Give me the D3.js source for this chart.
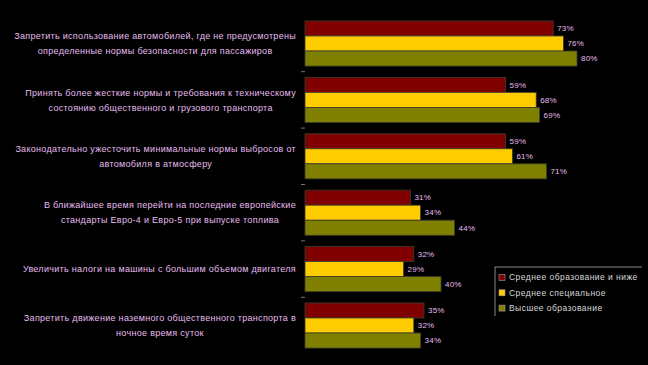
<!DOCTYPE html>
<html>
<head>
<meta charset="utf-8">
<script src="https://cdn.jsdelivr.net/npm/d3@7"></script>
<style>
  html, body { margin: 0; padding: 0; background: #000; }
  svg { display: block; }
</style>
</head>
<body>
<svg id="chart" width="648" height="365"></svg>
<script>
// categories, already split in the lines they wrap to
const categories = [
  ['Запретить использование автомобилей, где не предусмотрены', 'определенные нормы безопасности для пассажиров'],
  ['Принять более жесткие нормы и требования к техническому', 'состоянию общественного и грузового транспорта'],
  ['Законодательно ужесточить минимальные нормы выбросов от', 'автомобиля в атмосферу'],
  ['В ближайшее время перейти на последние европейские', 'стандарты Евро-4 и Евро-5 при выпуске топлива'],
  ['Увеличить налоги на машины с большим объемом двигателя'],
  ['Запретить движение наземного общественного транспорта в', 'ночное время суток']
];
const seriesNames = ['Среднее образование и ниже', 'Среднее специальное', 'Высшее образование'];
const seriesColors = ['#800000', '#ffcc00', '#808000'];
const secondaryValues = [73, 59, 59, 31, 32, 35];
const specialValues   = [76, 68, 61, 34, 29, 32];
const higherValues    = [80, 69, 71, 44, 40, 34];
const seriesValues = [secondaryValues, specialValues, higherValues];

const svg = d3.select('#chart');
const textColor = '#e6bcef';

let x = d3.scaleLinear().domain([0, 100]).range([305, 645]);
let y = d3.scaleBand()
  .domain(d3.range(categories.length))
  .range([15.3, 353.7])
  .paddingInner(0.2)
  .paddingOuter(0.1)
;
let ySub = d3.scaleBand().domain(d3.range(seriesNames.length)).range([0, y.bandwidth()]);

// ticks sit between groups, so put them on the band boundaries
let boundaries = d3.range(1, categories.length).map(i => y(i) - y.step() * y.paddingInner() / 2);
svg.append('g')
  .selectAll('line')
  .data(boundaries)
  .enter()
  .append('line')
  .attr('x1', 301).attr('x2', 305)
  .attr('y1', d => d).attr('y2', d => d)
  .attr('stroke', '#777')
  .attr('stroke-width', 1)
;

let groups = svg.selectAll('.group')
  .data(categories)
  .enter()
  .append('g')
  .attr('transform', (d, i) => `translate(0, ${y(i)})`)
;

groups.selectAll('rect')
  .data((d, i) => seriesValues.map((s, k) => ({ k: k, v: s[i] })))
  .enter()
  .append('rect')
  .attr('x', x(0))
  .attr('y', d => ySub(d.k))
  .attr('width', d => x(d.v) - x(0))
  .attr('height', ySub.bandwidth())
  .attr('fill', d => seriesColors[d.k])
  .attr('stroke', '#3c3c30')
  .attr('stroke-width', 0.8)
;

groups.selectAll('.value')
  .data((d, i) => seriesValues.map((s, k) => ({ k: k, v: s[i] })))
  .enter()
  .append('text')
  .attr('x', d => x(d.v) + 4)
  .attr('y', d => ySub(d.k) + ySub.bandwidth() / 2)
  .attr('dy', '0.35em')
  .attr('fill', textColor)
  .attr('style', 'font: 8px "Liberation Sans", Arial, sans-serif; letter-spacing: 0.2px')
  .text(d => d.v + '%')
;

// category labels: lines centred in a block that is right-aligned to x = 296
groups.each(function(lines) {
  let g = d3.select(this).append('g');
  let mid = y.bandwidth() / 2;
  let texts = g.selectAll('text')
    .data(lines)
    .enter()
    .append('text')
    .attr('y', (d, j) => mid + (j - (lines.length - 1) / 2) * 15)
    .attr('dy', '0.35em')
    .attr('text-anchor', 'middle')
    .attr('fill', textColor)
    .attr('style', 'font: 9px "Liberation Sans", Arial, sans-serif; letter-spacing: 0.3px')
    .text(d => d)
  ;
  let widest = d3.max(texts.nodes(), n => n.getComputedTextLength());
  texts.attr('x', 296 - widest / 2);
});

// legend
let legend = svg.append('g').attr('transform', 'translate(495, 267)');
legend.append('path')
  .attr('d', 'M0,49V0H147')
  .attr('fill', 'none')
  .attr('stroke', '#888')
;
let items = legend.selectAll('.item')
  .data(seriesNames)
  .enter()
  .append('g')
  .attr('transform', (d, i) => `translate(4, ${10.5 + i * 15.3})`)
;
items.append('rect')
  .attr('x', 0).attr('y', -3)
  .attr('width', 6).attr('height', 6)
  .attr('fill', (d, i) => seriesColors[i])
  .attr('stroke', '#999')
  .attr('stroke-width', 0.6)
;
items.append('text')
  .attr('x', 10)
  .attr('dy', '0.35em')
  .attr('fill', '#d8d8d8')
  .attr('style', 'font: 8.5px "Liberation Sans", Arial, sans-serif; letter-spacing: 0.45px')
  .text(d => d)
;
</script>
</body>
</html>
